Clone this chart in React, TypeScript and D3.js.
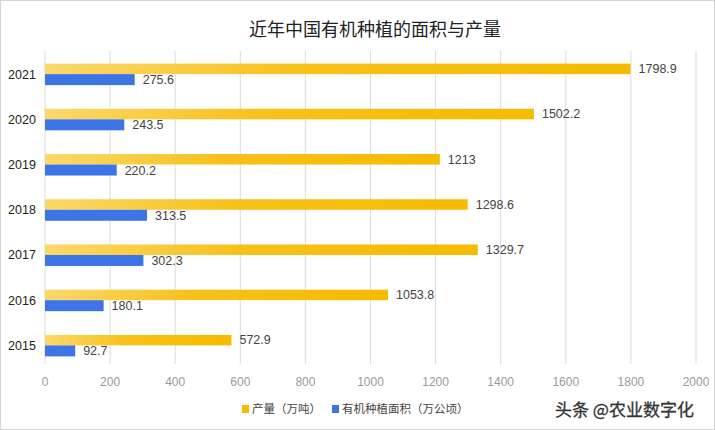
import React from "react";
import * as d3 from "d3";

const years = ["2021", "2020", "2019", "2018", "2017", "2016", "2015"];
const output = [1798.9, 1502.2, 1213, 1298.6, 1329.7, 1053.8, 572.9];
const area = [275.6, 243.5, 220.2, 313.5, 302.3, 180.1, 92.7];
const xTicks = [0, 200, 400, 600, 800, 1000, 1200, 1400, 1600, 1800, 2000];
const seriesNames = ["产量（万吨）", "有机种植面积（万公顷）"];
const title = "近年中国有机种植的面积与产量";

const W = 715, H = 430;
const FONT = "'Liberation Sans', Arial, 'Noto Sans CJK SC', sans-serif";
const CJK = "'Noto Sans CJK SC', sans-serif";

export default function App() {
  const x = d3.scaleLinear().domain([0, 2000]).range([45, 696]);
  const y = d3.scaleBand().domain(years).range([51.5, 368]);
  const barH = 10.5;
  return (
    <svg width={W} height={H} style={{ position: "absolute", left: 0, top: 0 }}>
      <defs>
        <linearGradient id="yg" x1="0" x2="1" y1="0" y2="0">
          <stop offset="0" stopColor="#fbd86b" />
          <stop offset="0.45" stopColor="#f7c11a" />
          <stop offset="1" stopColor="#f5bb00" />
        </linearGradient>
      </defs>
      <rect x={0.5} y={0.5} width={W - 1} height={H - 1} fill="#fff" stroke="#d4d4d4" />
      <text x={375} y={36} textAnchor="middle" fontFamily={CJK} fontSize={18} fill="#222">{title}</text>
      {xTicks.map(t => (
        <line key={t} x1={x(t)} x2={x(t)} y1={51} y2={364} stroke="#dcdcdc" strokeWidth={1} />
      ))}
      {xTicks.map(t => (
        <text key={"t" + t} x={x(t)} y={386} textAnchor="middle" fontFamily={FONT} fontSize={12} fill="#9a9a9a">{t}</text>
      ))}
      {years.map((yr, i) => {
        const c = (y(yr) as number) + y.bandwidth() / 2;
        return (
          <g key={yr}>
            <text x={22} y={c + 4.5} textAnchor="middle" fontFamily={FONT} fontSize={12.5} fill="#222">{yr}</text>
            <rect x={x(0)} y={c - barH} width={x(output[i]) - x(0)} height={barH} fill="url(#yg)" />
            <rect x={x(0)} y={c} width={x(area[i]) - x(0)} height={barH + 0.5} fill="#3d74e6" />
            <text x={x(output[i]) + 8} y={c - 1} fontFamily={FONT} fontSize={12.5} fill="#444">{output[i]}</text>
            <text x={x(area[i]) + 8} y={c + 10} fontFamily={FONT} fontSize={12.5} fill="#444">{area[i]}</text>
          </g>
        );
      })}
      <rect x={242} y={405} width={7} height={8} fill="#f5bb00" />
      <text x={252} y={413} fontFamily={CJK} fontSize={11.5} fill="#444">{seriesNames[0]}</text>
      <rect x={332} y={405} width={7} height={8} fill="#3d74e6" />
      <text x={342} y={413} fontFamily={CJK} fontSize={11.5} fill="#444">{seriesNames[1]}</text>
      <text x={555} y={416} fontFamily={CJK} fontSize={17} fill="#333" stroke="#333" strokeWidth={0.3}>头条 @农业数字化</text>
    </svg>
  );
}
